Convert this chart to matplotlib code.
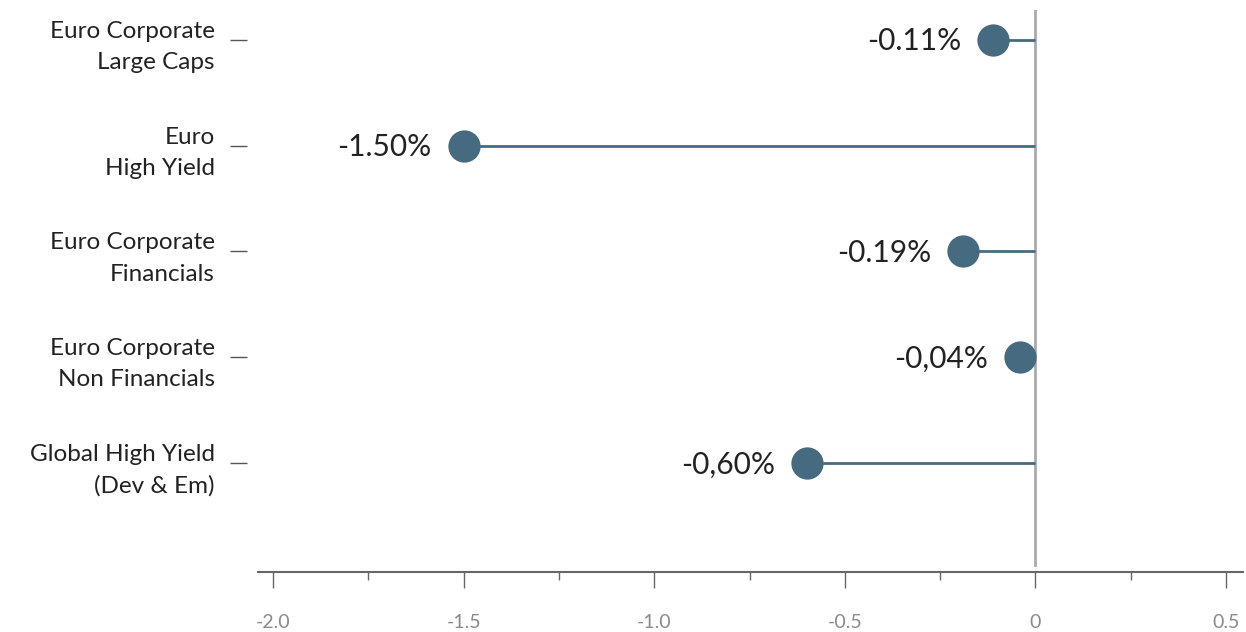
import numpy as np
import matplotlib.pyplot as plt
from matplotlib.ticker import MultipleLocator

categories = ['Euro Corporate\nLarge Caps',
              'Euro\nHigh Yield',
              'Euro Corporate\nFinancials',
              'Euro Corporate\nNon Financials',
              'Global High Yield\n(Dev & Em)']
values = [-0.11, -1.50, -0.19, -0.04, -0.60]
value_labels = ['-0.11%', '-1.50%', '-0.19%', '-0,04%', '-0,60%']
x_ticks = [-2.0, -1.5, -1.0, -0.5, 0.0, 0.5]
x_ticklabels = ['-2.0', '-1.5', '-1.0', '-0.5', '0', '0.5']

plt.rcParams['font.family'] = ['Lato', 'DejaVu Sans']

dot = '#466a80'
ink = '#222222'

fig = plt.figure(figsize=(12.46, 6.32), dpi=100)
ax = fig.add_axes([0.207, 0.095, 0.7906, 0.889])

ypos = np.arange(len(categories))

# lollipops: stem from zero to the value, dot on the end
ax.hlines(ypos, values, 0, color=dot, lw=2, zorder=2)
ax.scatter(values, ypos, s=540, color=dot, zorder=3, linewidths=0)
for y, v, lab in zip(ypos, values, value_labels):
    ax.annotate(lab, (v, y), xytext=(-23, -1), textcoords='offset points',
                ha='right', va='center', fontsize=21.5, color=ink)

ax.axvline(0, ymin=0.012, ymax=1, color='#aaaaaa', lw=2, zorder=1)

ax.set_xlim(-2.04, 0.545)
ax.set_ylim(5.03, -0.28)

ax.tick_params(axis='x', which='major', length=11.5, width=1, color='#666666',
               pad=19, labelsize=14, labelcolor='#8a8a8a')
ax.tick_params(axis='x', which='minor', length=6, width=1, color='#666666')
ax.tick_params(axis='y', length=12, width=1, color='#555555', pad=11,
               labelsize=17.5, labelcolor=ink)

ax.set_xticks(x_ticks)
ax.set_xticklabels(x_ticklabels)
ax.xaxis.set_minor_locator(MultipleLocator(0.25))

ax.set_yticks(ypos)
ax.set_yticklabels(categories)
ax.spines['left'].set_position(('outward', 8))

for side in ['top', 'right', 'left']:
    ax.spines[side].set_visible(False)
ax.spines['bottom'].set_color('#666666')
ax.spines['bottom'].set_linewidth(1.5)

# more air between the two lines of each category name
for t in ax.get_yticklabels():
    t.set_linespacing(1.6)

fig.savefig('out.png', dpi=100)
